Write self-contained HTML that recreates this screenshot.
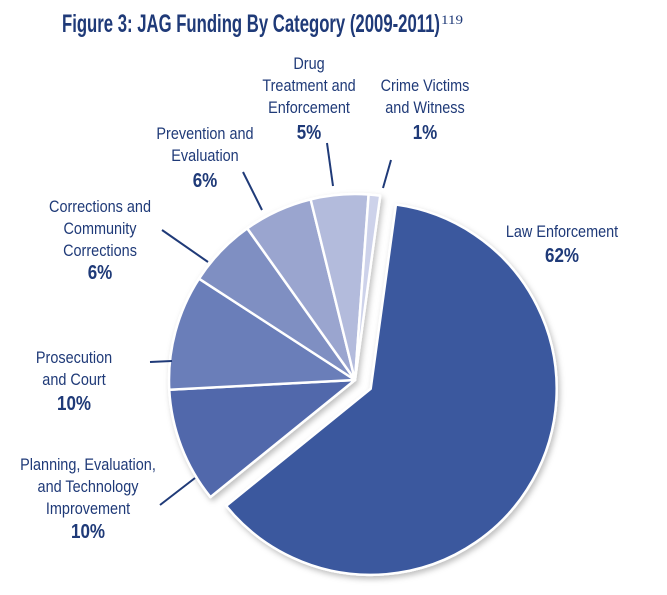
<!DOCTYPE html>
<html><head><meta charset="utf-8"><style>
html,body{margin:0;padding:0;background:#fff;}
svg{display:block;}
text{font-family:"Liberation Sans Narrow","Liberation Sans",sans-serif;fill:#1f3a78;}
</style></head><body>
<svg id="chart" width="667" height="595" viewBox="0 0 667 595">
<defs><filter id="sh" x="-10%" y="-10%" width="130%" height="130%"><feDropShadow dx="2" dy="3" stdDeviation="3" flood-color="#000" flood-opacity="0.25"/></filter></defs>
<text x="62" y="32" font-size="25" font-weight="bold" textLength="378" lengthAdjust="spacingAndGlyphs">Figure 3: JAG Funding By Category (2009-2011)</text>
<text x="441" y="24" font-size="13" style="font-family:'Liberation Serif',serif" textLength="22" lengthAdjust="spacingAndGlyphs">119</text>
<g id="slices" filter="url(#sh)"></g>
<g id="labels"></g>
</svg>
<script>
const categories = ["Law Enforcement","Planning, Evaluation, and Technology Improvement","Prosecution and Court","Corrections and Community Corrections","Prevention and Evaluation","Drug Treatment and Enforcement","Crime Victims and Witness"];
const values = [62,10,10,6,6,5,1];
const valueLabels = ["62%","10%","10%","6%","6%","5%","1%"];
const colors = ["#3a589e","#5168ab","#6b7eb9","#7f8fc2","#9aa5cf","#b3bbdc","#cdd2ea"];
const NS="http://www.w3.org/2000/svg";
const cx=355, cy=380, r=186, explode=18, startDeg=7.8;
const total=values.reduce((a,b)=>a+b,0);
const g=document.getElementById('slices');
function pt(x,y,deg,rad){const a=deg*Math.PI/180;return [x+rad*Math.sin(a),y-rad*Math.cos(a)];}
let acc=startDeg;
values.forEach((v,i)=>{
  const span=v/total*360;
  const mid=acc+span/2;
  let ox=cx,oy=cy;
  if(i===0){const o=pt(0,0,mid,explode);ox+=o[0];oy+=o[1];}
  const p1=pt(ox,oy,acc,r), p2=pt(ox,oy,acc+span,r);
  const path=document.createElementNS(NS,'path');
  path.setAttribute('d',`M${ox},${oy} L${p1[0]},${p1[1]} A${r},${r} 0 ${span>180?1:0} 1 ${p2[0]},${p2[1]} Z`);
  path.setAttribute('fill',colors[i]);
  path.setAttribute('stroke','#fff');
  path.setAttribute('stroke-width','2.5');
  path.setAttribute('stroke-linejoin','round');
  
  
  g.appendChild(path);
  acc+=span;
});
const lg=document.getElementById('labels');
const layout=[
 [["Law Enforcement"],562,237,262,null],
 [["Planning,  Evaluation,","and Technology","Improvement"],88,470,538,[160,505,195,478]],
 [["Prosecution","and Court"],74,363,410,[150,362,172,361]],
 [["Corrections and","Community","Corrections"],100,212,279,[162,230,208,262]],
 [["Prevention and","Evaluation"],205,139,187,[243,172,262,210]],
 [["Drug","Treatment and","Enforcement"],309,69,139,[327,143,333,186]],
 [["Crime Victims","and Witness"],425,91,139,[391,160,383,188]]
];
function addText(s,x,y,size,bold,name,sx){
  const t=document.createElementNS(NS,'text');
  t.setAttribute('x',0);t.setAttribute('y',0);
  t.setAttribute('transform',`translate(${x},${y}) scale(${sx},1)`);
  t.setAttribute('text-anchor','middle');t.setAttribute('font-size',size);
  if(bold)t.setAttribute('font-weight','bold');
  t.textContent=s;
  
  
  lg.appendChild(t);
}
layout.forEach((L,i)=>{
  L[0].forEach((s,j)=>addText(s,L[1],L[2]+j*22,17,false,'label-'+i+'-line-'+j,0.85));
  addText(valueLabels[i],L[1],L[3],20,true,'value-label-'+i,0.85);
  if(L[4]){
    const l=document.createElementNS(NS,'line');
    l.setAttribute('x1',L[4][0]);l.setAttribute('y1',L[4][1]);l.setAttribute('x2',L[4][2]);l.setAttribute('y2',L[4][3]);
    l.setAttribute('stroke','#1f3a78');l.setAttribute('stroke-width','2');
    
    
    lg.appendChild(l);
  }
});
</script>
</body></html>
